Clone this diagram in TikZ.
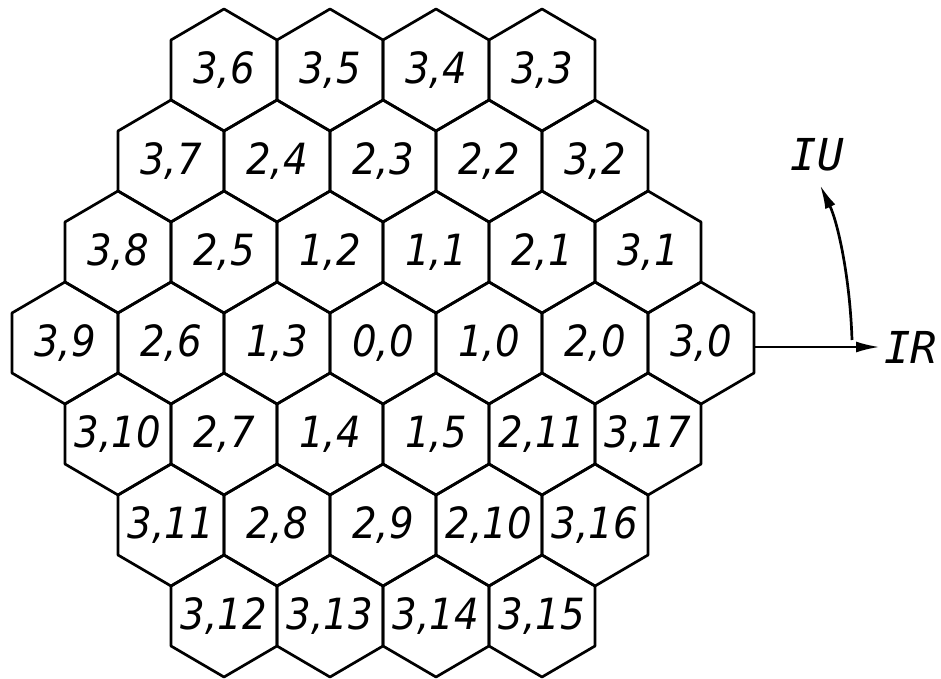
\documentclass[tikz,border=0pt]{standalone}
\usepackage{fontspec}
\setmainfont{DejaVu Sans Condensed}
\newfontfamily\axfont{DejaVu Sans Mono}
\usetikzlibrary{arrows.meta}
\newcommand\hexcell[4]{%
  \draw[hexline] (#1+53,#2+30) -- (#1,#2+61) -- (#1-53,#2+30) -- (#1-53,#2-30) -- (#1,#2-61) -- (#1+53,#2-30) -- cycle;
  \node[lbl] (#3) at (#1,#2) {#4};}
\begin{document}
\begin{tikzpicture}[x=1pt,y=1pt,
  hexline/.style={line width=2.7pt, line join=round},
  lbl/.style={font=\fontsize{43}{43}\selectfont\itshape, inner sep=0pt},
  axlbl/.style={font=\axfont\fontsize{44}{44}\selectfont\itshape, inner sep=0pt},
  axisarrow/.style={line width=2.7pt, -{Latex[length=24pt,width=11pt]}}]
\useasboundingbox (0,0) rectangle (941,678);
% row 0
\hexcell{224}{608}{h36}{3,6}
\hexcell{330}{608}{h35}{3,5}
\hexcell{436}{608}{h34}{3,4}
\hexcell{542}{608}{h33}{3,3}
% row 1
\hexcell{171}{517}{h37}{3,7}
\hexcell{277}{517}{h24}{2,4}
\hexcell{383}{517}{h23}{2,3}
\hexcell{489}{517}{h22}{2,2}
\hexcell{595}{517}{h32}{3,2}
% row 2
\hexcell{118}{426}{h38}{3,8}
\hexcell{224}{426}{h25}{2,5}
\hexcell{330}{426}{h12}{1,2}
\hexcell{436}{426}{h11}{1,1}
\hexcell{542}{426}{h21}{2,1}
\hexcell{648}{426}{h31}{3,1}
% row 3
\hexcell{65}{335}{h39}{3,9}
\hexcell{171}{335}{h26}{2,6}
\hexcell{277}{335}{h13}{1,3}
\hexcell{383}{335}{h00}{0,0}
\hexcell{489}{335}{h10}{1,0}
\hexcell{595}{335}{h20}{2,0}
\hexcell{701}{335}{h30}{3,0}
% row 4
\hexcell{118}{244}{h310}{3,10}
\hexcell{224}{244}{h27}{2,7}
\hexcell{330}{244}{h14}{1,4}
\hexcell{436}{244}{h15}{1,5}
\hexcell{542}{244}{h211}{2,11}
\hexcell{648}{244}{h317}{3,17}
% row 5
\hexcell{171}{153}{h311}{3,11}
\hexcell{277}{153}{h28}{2,8}
\hexcell{383}{153}{h29}{2,9}
\hexcell{489}{153}{h210}{2,10}
\hexcell{595}{153}{h316}{3,16}
% row 6
\hexcell{224}{62}{h312}{3,12}
\hexcell{330}{62}{h313}{3,13}
\hexcell{436}{62}{h314}{3,14}
\hexcell{542}{62}{h315}{3,15}
% axes
\coordinate (irstart) at (754,331);
\node[axlbl, anchor=west] (IR) at (884,331) {IR};
\node[axlbl] (IU) at (817,523) {IU};
\coordinate (iustart) at (852,338);
\coordinate (iutip) at (820,493);
\draw[axisarrow] (irstart) -- ([xshift=-4pt]IR.west);
\draw[axisarrow] (iustart) .. controls (850,400) and (838,455) .. (iutip);
\end{tikzpicture}
\end{document}
